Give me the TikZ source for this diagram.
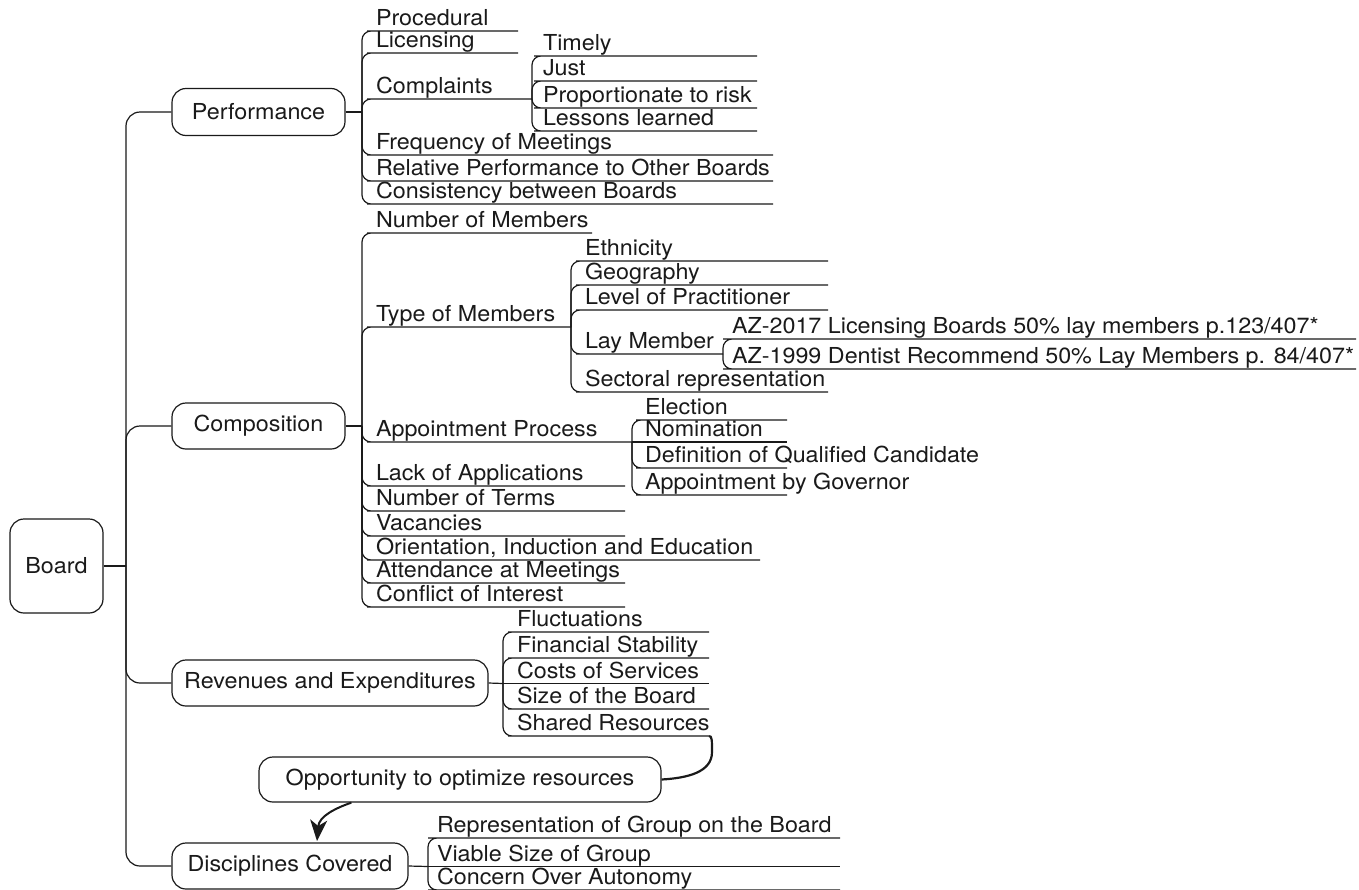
\documentclass[tikz,border=0pt]{standalone}
\usepackage{fontspec}
\newfontfamily\mmfont{TeX Gyre Heros}[FakeStretch=1.06]
\usetikzlibrary{arrows.meta}
\definecolor{ink}{HTML}{1A1A1A}
% a leaf topic: label sitting on its underline, joined to the parent junction
\newcommand\mmleaf[6]{% name, junction, text x, underline y, underline width, label
  \node[leaf] (#1) at (#3,#4) {\makebox[#5pt][l]{#6}};
  \draw[link] (#2) |- (#1.south west) -- (#1.south east);}
% same, for a leaf level with its junction
\newcommand\mmstraight[6]{%
  \node[leaf] (#1) at (#3,#4) {\makebox[#5pt][l]{#6}};
  \draw[link] (#2) -- (#1.south east);}
\begin{document}
\begin{tikzpicture}[x=1pt,y=-1pt,
  font=\mmfont\fontsize{22}{26}\selectfont, text=ink,
  link/.style={draw=ink, line width=1.2pt, rounded corners=9pt},
  topic/.style={draw=ink, line width=1.2pt, rounded corners=14pt, align=center, inner sep=0pt, minimum height=46pt},
  leaf/.style={anchor=south west, inner xsep=0pt, inner ysep=5.5pt, text depth=0pt, outer sep=0pt}]
\useasboundingbox (0,0) rectangle (1359,889);
\fill[white] (0,0) rectangle (1359,889);
\clip (0,0) rectangle (1359,889);

% main topics
\node[topic, minimum width=93pt, minimum height=94pt] (board) at (56.5,566) {Board};
\node[topic, minimum width=173pt, minimum height=47pt] (perf) at (258.5,112) {Performance};
\node[topic, minimum width=173pt] (comp) at (258.5,426) {Composition};
\node[topic, minimum width=316pt] (rev) at (330,683) {Revenues and Expenditures};
\node[topic, minimum width=236pt] (disc) at (290,866) {Disciplines Covered};
\node[topic, minimum width=402pt, minimum height=45pt] (opp) at (460,779.5) {Opportunity to optimize resources};

% junctions
\coordinate (trunkJ) at (126,566);
\coordinate (perfJ) at (362,112);
\coordinate (compJ) at (362,426);
\coordinate (revJ) at (503,683.5);
\coordinate (discJ) at (428,866.5);
\coordinate (arrowTip) at (317,841);

% trunk
\draw[link] (board.east) -- (trunkJ);
\draw[link, rounded corners=14pt] (trunkJ) |- (perf.west);
\draw[link, rounded corners=14pt] (trunkJ) |- (comp.west);
\draw[link, rounded corners=14pt] (trunkJ) |- (rev.west);
\draw[link, rounded corners=14pt] (trunkJ) |- (disc.west);
\draw[link] (perf.east) -- (perfJ);
\draw[link] (comp.east) -- (compJ);
\draw[link] (rev.east) -- (revJ);
\draw[link] (disc.east) -- (discJ);

% Performance
\mmleaf{proc}{perfJ}{376}{31}{142}{Procedural}
\mmleaf{lic}{perfJ}{376}{53}{142}{Licensing}
\mmleaf{compl}{perfJ}{376}{99}{156}{Complaints}
\mmleaf{freq}{perfJ}{376}{155}{397}{Frequency of Meetings}
\mmleaf{rel}{perfJ}{376}{181}{397}{Relative Performance to Other Boards}
\mmleaf{cons}{perfJ}{376}{204}{397}{Consistency between Boards}

% Complaints
\mmleaf{timely}{compl.south east}{543}{56}{214}{Timely}
\mmleaf{just}{compl.south east}{543}{81}{214}{Just}
\mmleaf{prop}{compl.south east}{543}{108}{214}{Proportionate to risk}
\mmleaf{lessons}{compl.south east}{543}{131}{214}{Lessons learned}

% Composition
\mmleaf{nmem}{compJ}{376}{233}{216}{Number of Members}
\mmleaf{tmem}{compJ}{376}{327}{195}{Type of Members}
\mmleaf{appt}{compJ}{376}{442}{256}{Appointment Process}
\mmleaf{lack}{compJ}{376}{486}{249}{Lack of Applications}
\mmleaf{nterm}{compJ}{376}{511}{249}{Number of Terms}
\mmleaf{vac}{compJ}{376}{536}{249}{Vacancies}
\mmleaf{orient}{compJ}{376}{560}{384}{Orientation, Induction and Education}
\mmleaf{attend}{compJ}{376}{583}{249}{Attendance at Meetings}
\mmleaf{conflict}{compJ}{376}{607}{249}{Conflict of Interest}

% Type of Members
\mmleaf{eth}{tmem.south east}{585}{261}{243}{Ethnicity}
\mmleaf{geo}{tmem.south east}{585}{285}{243}{Geography}
\mmleaf{level}{tmem.south east}{585}{310}{243}{Level of Practitioner}
\mmleaf{lay}{tmem.south east}{585}{354}{138}{Lay Member}
\mmleaf{sect}{tmem.south east}{585}{392}{243}{Sectoral representation}

% Lay Member
\mmleaf{azA}{lay.south east}{732}{339}{624}{AZ-2017 Licensing Boards 50\% lay members p.123/407*}
\mmleaf{azB}{lay.south east}{732}{369}{624}{AZ-1999 Dentist Recommend 50\% Lay Members p. 84/407*}

% Appointment Process
\mmleaf{elect}{appt.south east}{645}{420}{142}{Election}
\mmstraight{nomin}{appt.south east}{645}{442}{142}{Nomination}
\mmleaf{defn}{appt.south east}{645}{468}{142}{Definition of Qualified Candidate}
\mmleaf{gov}{appt.south east}{645}{495}{142}{Appointment by Governor}

% Revenues and Expenditures
\mmleaf{fluct}{revJ}{517}{632}{192}{Fluctuations}
\mmleaf{fin}{revJ}{517}{658}{192}{Financial Stability}
\mmstraight{costs}{revJ}{517}{683.5}{192}{Costs of Services}
\mmleaf{size}{revJ}{517}{709}{192}{Size of the Board}
\mmleaf{shared}{revJ}{517}{736}{192}{Shared Resources}

% Disciplines Covered
\mmleaf{repr}{discJ}{437}{838}{403}{Representation of Group on the Board}
\mmstraight{viable}{discJ}{437}{866.5}{403}{Viable Size of Group}
\mmleaf{concern}{discJ}{437}{890}{403}{Concern Over Autonomy}

% cross links
\draw[ink, line width=2.2pt] (shared.south east) .. controls (712,736) and (712,740) .. (712,752)
  .. controls (712,772) and (688,778) .. (opp.east);
\draw[ink, line width=2pt, -{Stealth[length=21pt,width=17pt,inset=6pt]}]
  ([xshift=93pt]opp.south west) .. controls (336,808) and (319,816) .. (arrowTip);
\end{tikzpicture}
\end{document}
